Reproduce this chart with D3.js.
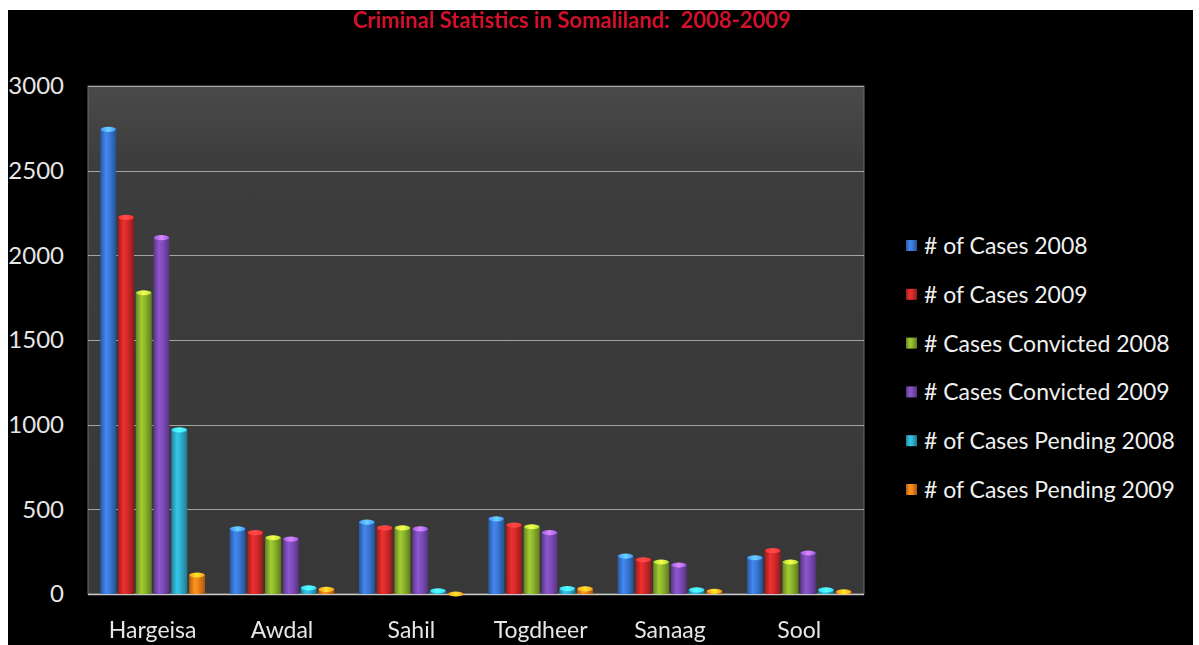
<!DOCTYPE html>
<html>
<head>
<meta charset="utf-8">
<script src="https://cdn.jsdelivr.net/npm/d3@7/dist/d3.min.js"></script>
<style>
  html, body { margin: 0; padding: 0; background: #ffffff; }
  svg { display: block; }
</style>
</head>
<body>
<svg id="chart" width="1199" height="645"></svg>
<script>
// Regions of Somaliland
const regions = ["Hargeisa", "Awdal", "Sahil", "Togdheer", "Sanaag", "Sool"];

// Series names
const seriesNames = [
  "# of Cases 2008",
  "# of Cases 2009",
  "# Cases Convicted 2008",
  "# Cases Convicted 2009",
  "# of Cases Pending 2008",
  "# of Cases Pending 2009"
];

// Values per series, ordered as regions
const cases2008      = [2750, 390, 430, 450, 230, 220];
const cases2009      = [2230, 368, 396, 413, 208, 262];
const convicted2008  = [1785, 338, 396, 403, 195, 195];
const convicted2009  = [2110, 330, 390, 368, 177, 248];
const pending2008    = [975, 42, 25, 38, 30, 30];
const pending2009    = [118, 33, 6, 36, 22, 18];

const yTicks = [0, 500, 1000, 1500, 2000, 2500, 3000];

const seriesValues = [cases2008, cases2009, convicted2008, convicted2009, pending2008, pending2009];
const colors = ["#3a78d6", "#d42a2a", "#8db52c", "#7d4cb8", "#2fb0cf", "#ee8218"];

const svg = d3.select("#chart");
const W = 1199, H = 645;
const FONT = "Lato, 'Open Sans', sans-serif";

// dark canvas inside a thin white frame
svg.append("rect").attr("x", 8).attr("y", 10).attr("width", W - 14).attr("height", H - 10).attr("fill", "#000");

const plot = { left: 88, right: 864, top: 86, bottom: 594 };

const defs = svg.append("defs");
const bgGrad = defs.append("linearGradient").attr("id", "bg").attr("x1", 0).attr("y1", 0).attr("x2", 0).attr("y2", 1);
bgGrad.append("stop").attr("offset", "0%").attr("stop-color", "#4a4a4a");
bgGrad.append("stop").attr("offset", "15%").attr("stop-color", "#3d3d3d");
bgGrad.append("stop").attr("offset", "100%").attr("stop-color", "#383838");

colors.forEach((c, i) => {
  const g = defs.append("linearGradient").attr("id", "bar" + i).attr("x1", 0).attr("y1", 0).attr("x2", 1).attr("y2", 0);
  const base = d3.color(c);
  g.append("stop").attr("offset", "0%").attr("stop-color", base.darker(0.9));
  g.append("stop").attr("offset", "35%").attr("stop-color", base.brighter(0.35));
  g.append("stop").attr("offset", "60%").attr("stop-color", base);
  g.append("stop").attr("offset", "100%").attr("stop-color", base.darker(1.1));
  const cap = defs.append("linearGradient").attr("id", "cap" + i).attr("x1", 0).attr("y1", 0).attr("x2", 1).attr("y2", 0);
  cap.append("stop").attr("offset", "0%").attr("stop-color", base.brighter(0.6));
  cap.append("stop").attr("offset", "50%").attr("stop-color", base.brighter(1.6));
  cap.append("stop").attr("offset", "100%").attr("stop-color", base.brighter(0.6));
});

const blur = defs.append("filter").attr("id", "soft").attr("x", "-20%").attr("y", "-20%").attr("width", "140%").attr("height", "140%");
blur.append("feGaussianBlur").attr("stdDeviation", 0.6);

svg.append("rect")
  .attr("x", plot.left).attr("y", plot.top)
  .attr("width", plot.right - plot.left).attr("height", plot.bottom - plot.top)
  .attr("fill", "url(#bg)")
  .attr("stroke", "#6a6a6a").attr("stroke-width", 1);

const y = d3.scaleLinear().domain([0, 3000]).range([plot.bottom, plot.top]);
const x0 = d3.scaleBand().domain(regions).range([plot.left, plot.right]).paddingInner(0.19).paddingOuter(0.095);
const x1 = d3.scaleBand().domain(d3.range(seriesNames.length)).range([0, x0.bandwidth()]).paddingInner(0.1);

// gridlines
svg.append("g")
  .selectAll("line")
  .data(yTicks.filter(t => t > 0))
  .join("line")
  .attr("x1", plot.left).attr("x2", plot.right)
  .attr("y1", d => Math.round(y(d)) + 0.5).attr("y2", d => Math.round(y(d)) + 0.5)
  .attr("stroke", "#a3a3a3").attr("stroke-width", 1.2);

// bottom baseline
svg.append("line")
  .attr("x1", plot.left).attr("x2", plot.right)
  .attr("y1", plot.bottom + 0.5).attr("y2", plot.bottom + 0.5)
  .attr("stroke", "#c8c8c8").attr("stroke-width", 1.5);

// y axis labels
const yAxis = d3.axisLeft(y).tickValues(yTicks).tickFormat(d3.format("d")).tickSize(0).tickPadding(0);
const yg = svg.append("g").attr("transform", `translate(${plot.left - 24},0)`).call(yAxis);
yg.select(".domain").remove();
yg.selectAll("text")
  .attr("fill", "#e6e6e6")
  .style("font-family", FONT)
  .style("font-size", "24px");

// bars
const groups = svg.append("g").attr("filter", "url(#soft)")
  .selectAll("g")
  .data(regions)
  .join("g")
  .attr("transform", d => `translate(${x0(d)},0)`);

groups.each(function(region, ri) {
  const g = d3.select(this);
  seriesValues.forEach((vals, si) => {
    const v = vals[ri];
    const bx = x1(si), bw = x1.bandwidth();
    const top = y(v);
    g.append("rect")
      .attr("x", bx).attr("y", top)
      .attr("width", bw).attr("height", plot.bottom - top)
      .attr("fill", `url(#bar${si})`);
    g.append("ellipse")
      .attr("cx", bx + bw / 2).attr("cy", top + 1)
      .attr("rx", bw / 2 - 0.5).attr("ry", 2.6)
      .attr("fill", `url(#cap${si})`);
  });
});

// x labels
svg.append("g")
  .selectAll("text")
  .data(regions)
  .join("text")
  .attr("x", d => x0(d) + x0.bandwidth() / 2)
  .attr("y", 638)
  .attr("text-anchor", "middle")
  .attr("fill", "#e6e6e6")
  .style("font-family", FONT)
  .style("font-size", "23px")
  .text(d => d);

// title
svg.append("text")
  .attr("x", 572).attr("y", 28)
  .attr("text-anchor", "middle")
  .attr("fill", "#d3102a")
  .style("font-family", FONT)
  .style("font-weight", "bold")
  .style("font-size", "22px")
  .attr("xml:space", "preserve")
  .text("Criminal Statistics in Somaliland:  2008-2009");

// legend
const legend = svg.append("g").attr("transform", "translate(906,246)");
seriesNames.forEach((name, i) => {
  const row = legend.append("g").attr("transform", `translate(0,${i * 48.8})`);
  row.append("rect")
    .attr("x", 0).attr("y", -6).attr("width", 11).attr("height", 11)
    .attr("fill", `url(#bar${i})`);
  row.append("text")
    .attr("x", 18).attr("y", 8)
    .attr("fill", "#f0f0f0")
    .style("font-family", FONT)
    .style("font-size", "23px")
    .text(name);
});
</script>
</body>
</html>
